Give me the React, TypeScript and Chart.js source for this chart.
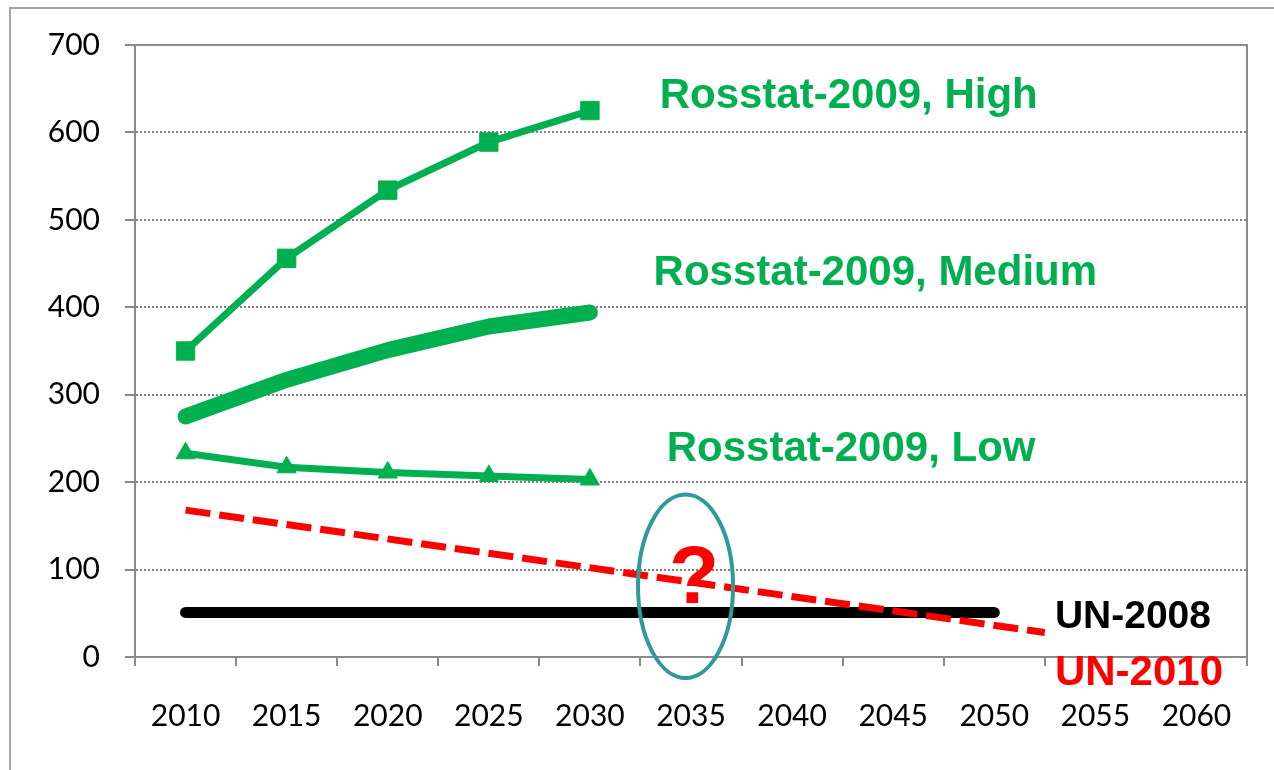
import React, { useEffect, useRef } from 'react';
import { Chart, registerables } from 'chart.js';

Chart.register(...registerables);

// ---- data ----
const categories = ['2010', '2015', '2020', '2025', '2030', '2035', '2040', '2045', '2050', '2055', '2060'];
const rosstatYears = [2010, 2015, 2020, 2025, 2030];
const rosstatHigh = [350, 456, 534, 589, 625];
const rosstatMedium = [275, 317, 351, 378, 394];
const rosstatLow = [233, 217, 211, 207, 203];
const un2008Years = [2010, 2015, 2020, 2025, 2030, 2035, 2040, 2045, 2050];
const un2008Values = [51, 51, 51, 51, 51, 51, 51, 51, 51];
const un2010Years = [2010, 2052.5];
const un2010Values = [168, 28];

// ---- styles ----
const GREEN = '#00B050';
const RED = '#FF0000';
const BLACK = '#000000';
const TEAL = '#2E9A9A';
const AXIS = '#8a8a8a';
const GRID = '#7f7f7f';
const FRAME = '#a6a6a6';
const TICK_FONT = 'Lato, "Open Sans", sans-serif';
const LABEL_FONT = '"Liberation Sans", Arial, sans-serif';

const annotations = [
  { text: 'Rosstat-2009, High', x: 2033.45, y: 628, color: GREEN, size: 42, align: 'left' },
  { text: 'Rosstat-2009, Medium', x: 2033.15, y: 425, color: GREEN, size: 42, align: 'left' },
  { text: 'Rosstat-2009, Low', x: 2033.8, y: 224, color: GREEN, size: 42, align: 'left' },
  { text: 'UN-2008', x: 2053.0, y: 33, color: BLACK, size: 39, align: 'left' },
  { text: 'UN-2010', x: 2053.0, y: -32, color: RED, size: 42, align: 'left' },
  { text: '?', x: 2035.15, y: 62, color: RED, size: 82, align: 'center' },
];
const ellipse = { x: 2034.73, y: 81, rx: 2.35, ry: 105 };

const toPoints = (xs: number[], ys: number[]) => xs.map((x, i) => ({ x, y: ys[i] }));

const decorPlugin = {
  id: 'decor',
  beforeDraw(chart: any) {
    const { ctx, width, height } = chart;
    ctx.save();
    ctx.strokeStyle = FRAME;
    ctx.lineWidth = 2;
    ctx.beginPath();
    ctx.moveTo(10, height);
    ctx.lineTo(10, 8);
    ctx.lineTo(width, 8);
    ctx.stroke();
    ctx.restore();
  },
  afterDraw(chart: any) {
    const { ctx, chartArea } = chart;
    const xs = chart.scales.xl;
    const ys = chart.scales.y;
    ctx.save();
    // top & right plot frame
    ctx.strokeStyle = AXIS;
    ctx.lineWidth = 2;
    ctx.beginPath();
    ctx.moveTo(chartArea.left, chartArea.top);
    ctx.lineTo(chartArea.right, chartArea.top);
    ctx.lineTo(chartArea.right, chartArea.bottom);
    ctx.stroke();
    // ellipse
    const cx = xs.getPixelForValue(ellipse.x);
    const cy = ys.getPixelForValue(ellipse.y);
    const rx = Math.abs(xs.getPixelForValue(ellipse.x + ellipse.rx) - cx);
    const ry = Math.abs(ys.getPixelForValue(ellipse.y + ellipse.ry) - cy);
    ctx.strokeStyle = TEAL;
    ctx.lineWidth = 4;
    ctx.beginPath();
    ctx.ellipse(cx, cy, rx, ry, 0, 0, Math.PI * 2);
    ctx.stroke();
    // text labels
    ctx.textBaseline = 'alphabetic';
    annotations.forEach((a) => {
      ctx.font = `bold ${a.size}px ${LABEL_FONT}`;
      ctx.fillStyle = a.color;
      ctx.textAlign = a.align;
      ctx.fillText(a.text, xs.getPixelForValue(a.x), ys.getPixelForValue(a.y));
    });
    ctx.restore();
  },
};

export default function App() {
  const canvasRef = useRef<HTMLCanvasElement | null>(null);

  useEffect(() => {
    if (!canvasRef.current) return;
    const chart = new Chart(canvasRef.current, {
      type: 'line',
      data: {
        labels: categories,
        datasets: [
          {
            label: 'UN-2010',
            data: toPoints(un2010Years, un2010Values),
            xAxisID: 'xl',
            borderColor: RED,
            borderWidth: 7,
            borderDash: [25, 9],
            borderCapStyle: 'butt',
            pointRadius: 0,
            tension: 0,
            order: 1,
          },
          {
            label: 'UN-2008',
            data: toPoints(un2008Years, un2008Values),
            xAxisID: 'xl',
            borderColor: BLACK,
            borderWidth: 11,
            borderCapStyle: 'round',
            pointRadius: 0,
            tension: 0,
            order: 2,
          },
          {
            label: 'Rosstat-2009, High',
            data: toPoints(rosstatYears, rosstatHigh),
            xAxisID: 'xl',
            borderColor: GREEN,
            backgroundColor: GREEN,
            borderWidth: 7,
            pointStyle: 'rect',
            pointRadius: 13,
            pointBackgroundColor: GREEN,
            pointBorderColor: GREEN,
            pointBorderWidth: 1,
            tension: 0,
            order: 1,
          },
          {
            label: 'Rosstat-2009, Medium',
            data: toPoints(rosstatYears, rosstatMedium),
            xAxisID: 'xl',
            borderColor: GREEN,
            borderWidth: 16,
            borderCapStyle: 'round',
            borderJoinStyle: 'round',
            pointRadius: 0,
            tension: 0,
            order: 1,
          },
          {
            label: 'Rosstat-2009, Low',
            data: toPoints(rosstatYears, rosstatLow),
            xAxisID: 'xl',
            borderColor: GREEN,
            backgroundColor: GREEN,
            borderWidth: 7,
            pointStyle: 'triangle',
            pointRadius: 11,
            pointBackgroundColor: GREEN,
            pointBorderColor: GREEN,
            pointBorderWidth: 1,
            tension: 0,
            order: 1,
          },
        ],
      },
      options: {
        animation: false,
        responsive: false,
        maintainAspectRatio: false,
        events: [],
        layout: { padding: { top: 45, left: 10, right: 27, bottom: 0 } },
        plugins: { legend: { display: false }, tooltip: { enabled: false } },
        scales: {
          x: {
            type: 'category',
            position: 'bottom',
            offset: true,
            grid: {
              offset: true,
              drawOnChartArea: false,
              drawTicks: true,
              tickLength: 9,
              color: AXIS,
              lineWidth: 2,
            },
            border: { display: true, color: AXIS, width: 2 },
            ticks: {
              font: { family: TICK_FONT, size: 30 },
              color: '#000',
              padding: 32,
              maxRotation: 0,
              autoSkip: false,
            },
            afterFit: (s: any) => {
              s.height = 113;
            },
          },
          xl: {
            type: 'linear',
            display: false,
            min: 2007.5,
            max: 2062.5,
          },
          y: {
            type: 'linear',
            position: 'left',
            min: 0,
            max: 700,
            ticks: {
              stepSize: 100,
              font: { family: TICK_FONT, size: 30 },
              color: '#000',
              padding: 25,
            },
            grid: {
              drawTicks: true,
              tickLength: 10,
              lineWidth: 2,
              color: (ctx: any) =>
                ctx.tick && (ctx.tick.value === 0 || ctx.tick.value === 700) ? 'rgba(0,0,0,0)' : GRID,
              tickColor: AXIS,
              tickBorderDash: [],
            },
            border: { display: true, color: AXIS, width: 2, dash: [2, 2] },
            afterFit: (s: any) => {
              s.width = 125;
            },
          },
        },
      },
      plugins: [decorPlugin],
    } as any);
    return () => chart.destroy();
  }, []);

  return (
    <div style={{ position: 'absolute', left: 0, top: 0, width: 1274, height: 770, background: '#fff' }}>
      <canvas ref={canvasRef} width={1274} height={770} style={{ display: 'block' }} />
    </div>
  );
}
